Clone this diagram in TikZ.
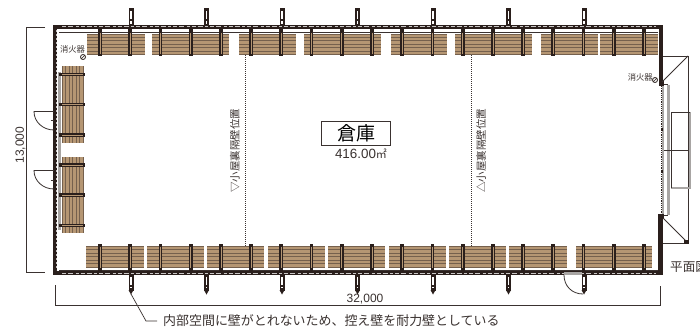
\documentclass[tikz,border=0pt]{standalone}
\usepackage{fontspec}
\newfontfamily\cjk{Noto Sans CJK JP}
\setmainfont{Liberation Sans}
\definecolor{wallc}{HTML}{2A1F1C}
\definecolor{woodc}{HTML}{B59673}
\definecolor{woodd}{HTML}{75604D}
\definecolor{graywall}{HTML}{A8A5A3}
\definecolor{linec}{HTML}{3A3230}
\tikzset{
  x=1pt,y=-1pt,
  wallbar/.style={line width=4.6pt,draw=wallc,line cap=rect},
  wallfleck/.style={line width=.9pt,draw=white!75!wallc,dash pattern=on 4pt off 2pt on 5pt off 2.5pt on 3pt off 2pt},
  ribbar/.style={line width=3.8pt,draw=wallc},
  ribcore/.style={line width=.7pt,draw=woodc},
  buttress/.style={line width=5pt,draw=wallc},
  buttcore/.style={line width=1.5pt,draw=white,dash pattern=on 8pt off 2pt},
  thin/.style={line width=.8pt,draw=linec},
  dimline/.style={line width=.7pt,draw=linec},
  dimlab/.style={font=\fontsize{12}{14}\selectfont,text=linec,inner sep=0pt},
  jp/.style={font=\cjk\fontsize{#1}{#1}\selectfont,text=linec,inner sep=0pt},
  graybar/.style={line width=2.2pt,draw=graywall},
}
\newcommand{\woodH}[4]{%
  \fill[woodc] (#1,#2) rectangle (#3,#4);
  \foreach \k in {1,...,5}{\draw[woodd,line width=.8pt] (#1,{#2+(#4-#2)*\k/6}) -- (#3,{#2+(#4-#2)*\k/6});}
  \draw[woodd,line width=.8pt] (#1,#2) -- (#3,#2) (#1,#4) -- (#3,#4);
}
\newcommand{\woodV}[4]{%
  \fill[woodc] (#1,#2) rectangle (#3,#4);
  \foreach \k in {1,...,5}{\draw[woodd,line width=.8pt] ({#1+(#3-#1)*\k/6},#2) -- ({#1+(#3-#1)*\k/6},#4);}
  \draw[woodd,line width=.8pt] (#1,#2) -- (#1,#4) (#3,#2) -- (#3,#4);
}
\begin{document}
\begin{tikzpicture}
\useasboundingbox (0,0) rectangle (700,327);
\clip (0,0) rectangle (700,327);
\fill[white] (0,0) rectangle (700,327);
% wood: top
\foreach \a/\b in {87/145,152/229,239/296,304/381,391/447,455/532,541/598,600/658}{\woodH{\a}{34}{\b}{54.5}}
% wood: bottom
\foreach \a/\b in {86/144,147/204,207/264,268/325,328/385,389/446,449/506,509/567,576/652}{\woodH{\a}{246}{\b}{267}}
% wood: left
\woodV{62}{66}{83}{143}
\woodV{62}{157}{83}{233}
% inner thin lines
\draw[line width=.7pt,draw=linec] (59,32) -- (658,32);
\draw[line width=.7pt,draw=linec] (59,270.5) -- (658,270.5);
% gray left inner wall
\draw[graybar] (59.5,72) -- (59.5,230);
% ribs
\foreach \i in {0,...,18}{
  \pgfmathsetmacro{\xx}{100+30.22*\i}
  \draw[ribbar] (\xx,27) -- (\xx,55.5);
  \draw[ribcore] (\xx,33) -- (\xx,54);
  \draw[ribbar] (\xx,244) -- (\xx,273);
  \draw[ribcore] (\xx,247) -- (\xx,268);
}
\foreach \y in {74.7,104.7,135,165,195,225.7}{
  \draw[line width=3.4pt,draw=wallc] (58.5,\y) -- (85,\y);
  \draw[line width=.6pt,draw=woodc] (62,\y) -- (83,\y);
}
% buttresses
\foreach \x in {131,206.5,282,357.5,433,508.5,584}{
  \draw[buttress] (\x,8) -- (\x,27);
  \draw[buttcore] (\x,11) -- (\x,24);
  \draw[buttress] (\x,273) -- (\x,291);
  \draw[buttcore] (\x,277) -- (\x,288);
  \fill[wallc] (\x-2.5,290) -- (\x+2.5,290) -- (\x,294.5) -- cycle;
}
% walls
\draw[wallbar] (55,272.5) -- (55,27) -- (661,27) -- (661,84);
\draw[wallbar] (660.5,216) -- (660.5,273) -- (55,273);
\draw[wallfleck] (62,26.8) -- (656,26.8);
\draw[wallfleck] (62,273) -- (656,273);
\draw[line width=.9pt,draw=white!75!wallc,dash pattern=on 2pt off 2pt] (56,30) -- (56,270);
% bottom door opening
\fill[graywall] (564,271.5) rectangle (582,275);
% right wall thin
\draw[line width=1.8pt,draw=graywall] (662.6,86) -- (662.6,214);
\draw[line width=.7pt,draw=wallc,dash pattern=on 1.2pt off 1pt] (661.8,86) -- (661.8,214);
\fill[wallc] (661,128) rectangle (663,131);
\fill[wallc] (661,170) rectangle (663,173);
\draw[thin] (661,84.5) -- (668,84.5);
\draw[thin] (661,215) -- (668,215);
\draw[line width=2.4pt,draw=graywall] (668.5,85) -- (668.5,215);
\fill[wallc] (658.5,80) rectangle (664,86);
\fill[wallc] (657.5,214) rectangle (663.5,218);
% porch
\draw[line width=1pt,draw=linec] (663,56) -- (688.5,56) -- (688.5,243) -- (663,243);
\coordinate (pa) at (662,82); \coordinate (pb) at (688,56);
\coordinate (pc) at (663,218); \coordinate (pd) at (686,241);
\draw[line width=.9pt,draw=linec] (pa) -- (pb);
\draw[line width=.9pt,draw=linec] (pc) -- (pd);
\fill[wallc] (684,240) rectangle (689,244);
\draw[line width=2pt,draw=graywall] (689.5,112) -- (689.5,188) -- (671,188);
\draw[line width=.6pt,draw=linec] (671,188) -- (671,112.5) -- (690,112.5);
\draw[line width=.9pt,draw=linec] (664,150) -- (689,150);
% doors
\draw[thin] (54,111.5) -- (34,111.5) .. controls (34,122) and (43,130) .. (54,130);
\draw[thin] (54,170.5) -- (34,170.5) .. controls (34,181) and (43,189) .. (54,189);
\draw[thin] (50.5,120.5) -- (54,120.5);
\draw[thin] (50.5,180) -- (54,180);
\draw[thin] (564,275) .. controls (564,286) and (572,294) .. (583,294);
% partition lines
\coordinate (ta) at (245,55); \coordinate (tb) at (245,246);
\coordinate (tc) at (471,55); \coordinate (td) at (471,246);
\draw[line width=.7pt,draw=linec,dash pattern=on 1.3pt off .7pt] (ta) -- (tb);
\draw[line width=.7pt,draw=linec,dash pattern=on 1.3pt off .7pt] (tc) -- (td);
\node[jp=10.5,rotate=90,text=linec] (lblL) at (235,150.5) {▽小屋裏隔壁位置};
\node[jp=10.5,rotate=90,text=linec] (lblR) at (481,150.5) {△小屋裏隔壁位置};
% room
\node[draw=linec,line width=.9pt,minimum width=69pt,minimum height=23.5pt,inner sep=0pt] (room) at (356.2,133.5) {\cjk\fontsize{19}{19}\selectfont 倉庫};
\node[dimlab,font=\fontsize{13.4}{14}\selectfont] (area) at (361,153.5) {416.00\cjk\fontsize{11}{11}\selectfont ㎡};
% extinguishers
\node[jp=8.3] (extA) at (72.5,49.7) {消火器};
\node[jp=8.3] (extB) at (640.3,77) {消火器};
\node[circle,draw=wallc,line width=.8pt,minimum size=5pt,inner sep=0pt] (symA) at (83,57) {};
\node[circle,draw=wallc,line width=.8pt,minimum size=5pt,inner sep=0pt] (symB) at (655,80) {};
\draw[wallc,line width=.6pt] (symA.south west) -- (symA.north east);
\draw[wallc,line width=.6pt] (symB.south west) -- (symB.north east);
% dimensions
\coordinate (d1) at (45,27); \coordinate (d2) at (26,27); \coordinate (d3) at (26,272.5); \coordinate (d4) at (45,272.5);
\draw[dimline] (d1) -- (d2) -- (d3) -- (d4);
\node[dimlab,rotate=90] (dimH) at (20.5,145) {13,000};
\coordinate (e1) at (55,285); \coordinate (e2) at (55,305); \coordinate (e3) at (660,305); \coordinate (e4) at (660,286);
\draw[dimline] (e1) -- (e2) -- (e3) -- (e4);
\node[dimlab] (dimW) at (365,299.5) {32,000};
% plan label
\node[jp=12.6,anchor=west] (plan) at (670,267) {平面図};
% leader
\node[jp=12.95,anchor=west] (note) at (163,321) {内部空間に壁がとれないため、控え壁を耐力壁としている};
\coordinate (l0) at (131,294); \coordinate (l1) at (146,321);
\draw[line width=.7pt,draw=linec] (l0) -- (l1) -- (note.west -| 157,0);
\end{tikzpicture}
\end{document}
